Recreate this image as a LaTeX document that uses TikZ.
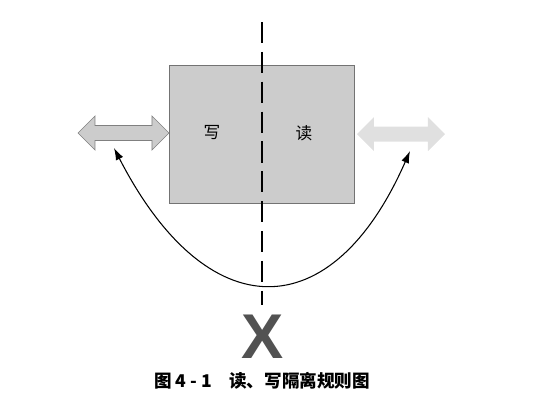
\documentclass[tikz,border=0pt]{standalone}
\usepackage{fontspec}
\setmainfont{Liberation Sans}
\newfontfamily\cjk{Noto Sans CJK SC}
\usepackage{tikz}
\usetikzlibrary{arrows.meta}
\tikzset{>={Latex[width=1.6mm,length=2.4mm]}}
\definecolor{boxgray}{gray}{0.80}
\definecolor{palegray}{gray}{0.88}

% double arrow outline: #1 = left x, #2 = right x, #3 = centre y
\newcommand{\dblarrowpath}[3]{%
  (#1,#3) -- ++(17,-17) -- ++(0,9.5) -- (#2-17,#3-7.5) -- ++(0,-9.5) -- (#2,#3)
  -- ++(-17,17) -- ++(0,-9.5) -- (#1+17,#3+7.5) -- ++(0,9.5) -- cycle}

\begin{document}
\begin{tikzpicture}[
    x = 0.02cm, y = -0.02cm,
    lbl/.style = {font=\cjk\fontsize{9.5}{10}\selectfont}
  ]
  \useasboundingbox (0,0) rectangle (539,416);

  \node[draw=gray!90!black, fill=boxgray, minimum width=3.7cm, minimum height=2.76cm,
        inner sep=0pt] (BOX) at (261.5,134) {};
  \node[lbl] (WRITE) at (212,133) {写};
  \node[lbl] (READ) at (304,133) {读};

  \draw[gray, fill=boxgray] \dblarrowpath{78}{169}{133};
  \fill[palegray] \dblarrowpath{357}{445}{134};

  \coordinate (TOP) at (262,22);
  \coordinate (BOT) at (262,305);
  \draw[dash pattern=on 12pt off 5pt, thick] (TOP) -- (BOT);

  \coordinate (LTIP) at (114,148);
  \coordinate (RTIP) at (410,151);
  \draw[<->, semithick] (LTIP) .. controls (207,329) and (332,329) .. (RTIP);

  \node[text=black!68, font=\bfseries\fontsize{36}{36}\selectfont, inner sep=0pt] (X) at (263,337) {X};

  \node[font=\cjk\bfseries\fontsize{10}{12}\selectfont] (CAP) at (262,381)
    {图 4 - 1\quad 读、写隔离规则图};
\end{tikzpicture}
\end{document}
